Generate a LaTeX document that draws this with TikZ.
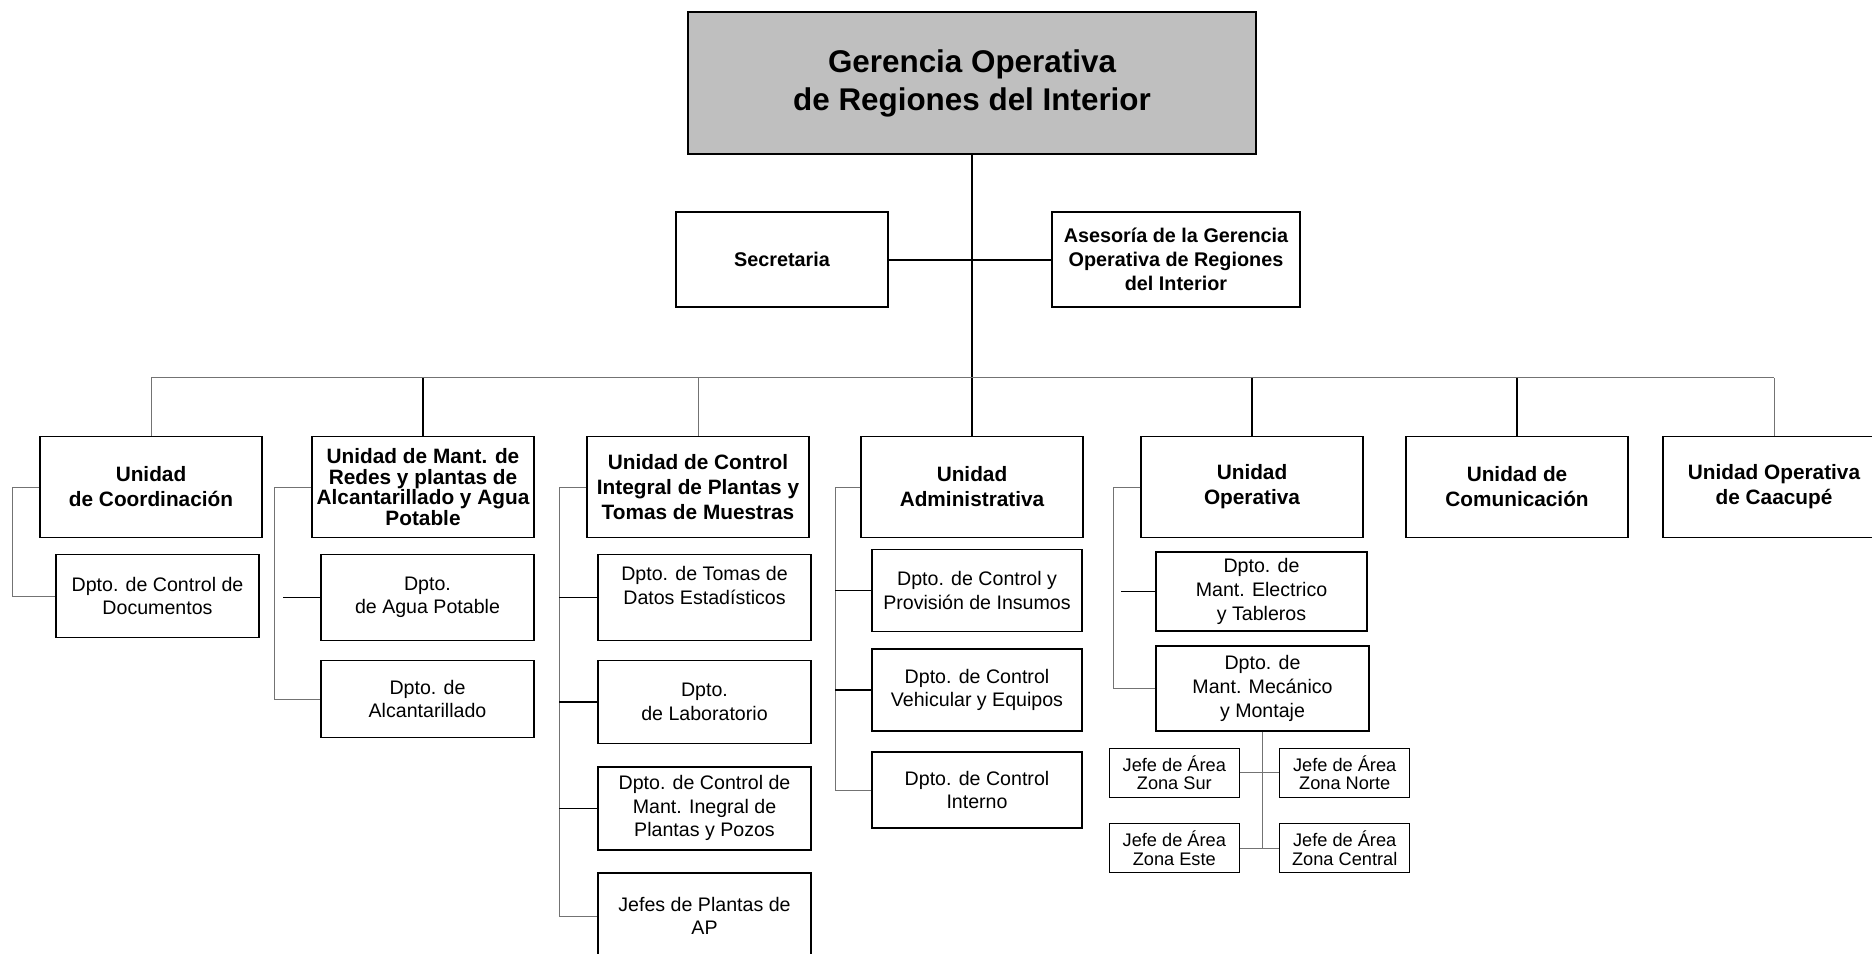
\documentclass[tikz,border=0pt]{standalone}
\usepackage{fontspec}
\setmainfont{Liberation Sans}
\usepackage{tikz}
\definecolor{lgray}{gray}{0.45}
\tikzset{
    boss/.style={rectangle, draw=black, line width=0.75pt, fill=black!25, align=center, inner sep=0pt, minimum width=284pt, minimum height=71pt, font=\fontsize{15.7}{19}\selectfont\bfseries},
    staff/.style={rectangle, draw=black, line width=0.75pt, fill=white, align=center, inner sep=0pt, minimum height=47.5pt, font=\fontsize{9.9}{12}\selectfont\bfseries},
    unit/.style={rectangle, draw=black, line width=0.75pt, fill=white, align=center, inner sep=0pt, minimum width=111pt, minimum height=50.5pt, font=\fontsize{10.4}{12.5}\selectfont\bfseries},
    dept/.style={rectangle, draw=black, line width=0.75pt, fill=white, align=center, inner sep=0pt, minimum width=106.5pt, font=\fontsize{9.8}{11.8}\selectfont},
    chief/.style={rectangle, draw=black, line width=0.75pt, fill=white, align=center, inner sep=0pt, minimum width=65pt, minimum height=24.5pt, font=\fontsize{9.1}{9.3}\selectfont},
    link/.style={draw=black, line width=0.75pt},
    faint/.style={draw=lgray, line width=0.5pt}
}

\begin{document}
\begin{tikzpicture}[x=0.5pt, y=-0.5pt]
    \useasboundingbox (0,0) rectangle (1872,953);

    % Gerencia
    \node[boss] (ger) at (972,83) {Gerencia Operativa\\de Regiones del Interior};
    \node[staff, minimum width=106pt] (secr) at (782,259.5) {Secretaria};
    \node[staff, minimum width=124pt] (ases) at (1176,259.5) {Asesoría de la Gerencia\\Operativa de Regiones\\del Interior};

    % Unidades
    \node[unit] (uCoord) at (151,487) {Unidad\\de Coordinación};
    \node[unit, font=\fontsize{10.4}{10.4}\selectfont\bfseries] (uRedes) at (423,487) {Unidad de Mant. de\\Redes y plantas de\\Alcantarillado y Agua\\Potable};
    \node[unit] (uCtrl) at (698,487) {Unidad de Control\\Integral de Plantas y\\Tomas de Muestras};
    \node[unit] (uAdm) at (972,487) {Unidad\\Administrativa};
    \node[unit] (uOpe) at (1252,487) {Unidad\\Operativa};
    \node[unit] (uCom) at (1517,487) {Unidad de\\Comunicación};
    \node[unit] (uCaa) at (1774,487) {Unidad Operativa\\de Caacupé};

    % Dptos
    \node[dept, minimum width=101.5pt, minimum height=41.5pt] (dDoc) at (157.5,596) {Dpto. de Control de\\Documentos};
    \node[dept, minimum height=43pt] (dAgua) at (427.5,597.3) {Dpto.\\de Agua Potable};
    \node[dept, minimum height=38.5pt] (dAlc) at (427.5,699) {Dpto. de\\Alcantarillado};
    \node[dept, minimum height=43pt] (dTomas) at (704.5,597.3) {Dpto. de Tomas de\\Datos Estadísticos\\~};
    \node[dept, minimum height=41.5pt] (dLab) at (704.5,702) {Dpto.\\de Laboratorio};
    \node[dept, minimum height=41.5pt] (dMant) at (704.5,808.3) {Dpto. de Control de\\Mant. Inegral de\\Plantas y Pozos};
    \node[dept, minimum height=43pt] (dJefes) at (704.5,916) {Jefes de Plantas de\\AP};
    \node[dept, minimum width=105pt, minimum height=41pt] (dInsu) at (977,590.3) {Dpto. de Control y\\Provisión de Insumos};
    \node[dept, minimum width=105pt, minimum height=41pt] (dVeh) at (977,690) {Dpto. de Control\\Vehicular y Equipos};
    \node[dept, minimum width=105pt, minimum height=38pt] (dInt) at (977,790) {Dpto. de Control\\Interno};
    \node[dept, minimum width=105.5pt, minimum height=39.5pt] (dElec) at (1261.5,591.5) {Dpto. de\\Mant. Electrico\\y Tableros};
    \node[dept, minimum height=42.5pt] (dMec) at (1262.5,688.5) {Dpto. de\\Mant. Mecánico\\y Montaje};

    % Jefes de Area
    \node[chief] (jSur) at (1174.3,772.8) {Jefe de Área\\Zona Sur};
    \node[chief] (jNorte) at (1344.7,772.8) {Jefe de Área\\Zona Norte};
    \node[chief] (jEste) at (1174.3,848) {Jefe de Área\\Zona Este};
    \node[chief] (jCentral) at (1344.7,848) {Jefe de Área\\Zona Central};

    % Trunk and bus
    \draw[link] (ger.south) -- (uAdm.north);
    \draw[link, line width=1pt] (secr.east) -- (ases.west);
    \coordinate (bus) at (0,377.5);
    \draw[faint] (uCoord.north |- bus) -- (uCaa.north |- bus);
    \foreach \nd in {uRedes, uOpe, uCom}
        \draw[link] (\nd.north) -- (\nd.north |- bus);
    \foreach \nd in {uCoord, uCtrl, uCaa}
        \draw[faint] (\nd.north) -- (\nd.north |- bus);

    % Brackets
    \draw[faint] (uCoord.west) -- ++(-27,0) |- (dDoc.west);

    \draw[faint] (uRedes.west) -- ++(-37,0) |- (dAlc.west);
    \coordinate (aguaStub) at (283,597.3);
    \draw[link] (aguaStub) -- (dAgua.west);

    \draw[faint] (uCtrl.west) -- ++(-27,0) coordinate (ctrlBar) |- (dJefes.west);
    \foreach \nd in {dTomas, dLab, dMant}
        \draw[link] (ctrlBar |- \nd.west) -- (\nd.west);

    \draw[faint] (uAdm.west) -- ++(-25,0) coordinate (admBar) |- (dInt.west);
    \foreach \nd in {dInsu, dVeh}
        \draw[link] (admBar |- \nd.west) -- (\nd.west);

    \draw[faint] (uOpe.west) -- ++(-27,0) |- (dMec.west);
    \coordinate (elecStub) at (1121,591.5);
    \draw[link] (elecStub) -- (dElec.west);

    \draw[faint] (dMec.south) -- (dMec.south |- jEste.east);
    \draw[faint] (jSur.east) -- (jNorte.west);
    \draw[faint] (jEste.east) -- (jCentral.west);
\end{tikzpicture}
\end{document}
